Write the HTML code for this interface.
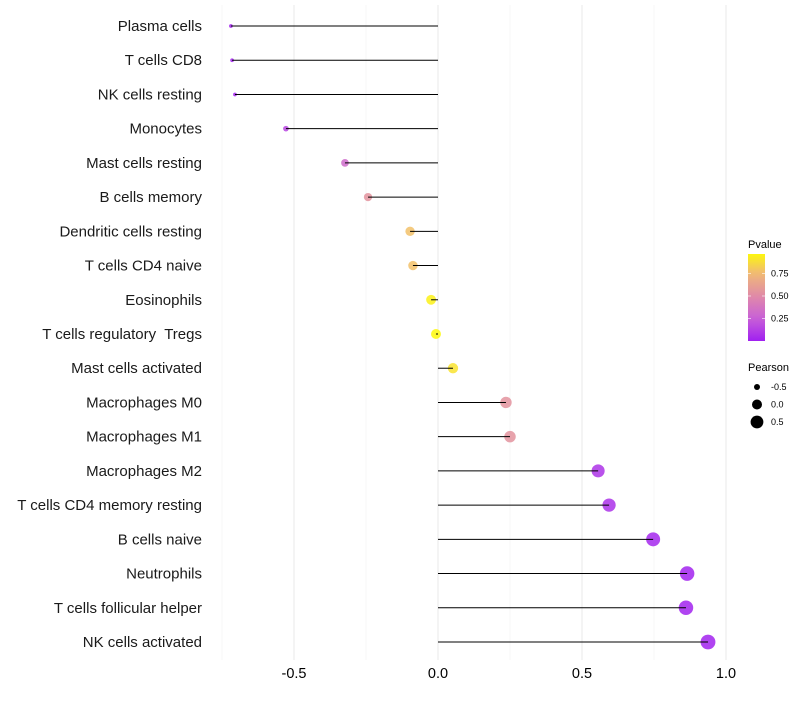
<!DOCTYPE html>
<html><head><meta charset="utf-8"><style>
body{margin:0;background:#fff;}
svg{font-family:"Liberation Sans",sans-serif;}
</style></head><body>
<svg id="chart" width="800" height="700"></svg>
<script>
const categories=["Plasma cells","T cells CD8","NK cells resting","Monocytes","Mast cells resting","B cells memory","Dendritic cells resting","T cells CD4 naive","Eosinophils","T cells regulatory  Tregs","Mast cells activated","Macrophages M0","Macrophages M1","Macrophages M2","T cells CD4 memory resting","B cells naive","Neutrophils","T cells follicular helper","NK cells activated"];
const pearson=[-0.719,-0.715,-0.705,-0.528,-0.323,-0.243,-0.097,-0.087,-0.024,-0.007,0.052,0.236,0.25,0.556,0.594,0.747,0.865,0.861,0.9375];
const pvalues=[0.01,0.01,0.02,0.15,0.32,0.55,0.78,0.78,0.95,0.98,0.9,0.55,0.55,0.08,0.07,0.03,0.01,0.01,0.01];
const xTicks=[-0.5,0,0.5,1];
const xTickLabels=["-0.5","0.0","0.5","1.0"];
const minorTicks=[-0.75,-0.25,0.25,0.75];
const legendPTicks=[0.25,0.5,0.75];
const legendPLabels=["0.25","0.50","0.75"];
const legendSizes=[-0.5,0,0.5];
const legendSizeLabels=["-0.5","0.0","0.5"];

const NS="http://www.w3.org/2000/svg";
const svg=document.getElementById('chart');
const x=v=>438+v*288;
const y=i=>26+i*(616/18);
const r=v=>Math.sqrt(Math.max(25+32*v,3.5));
const stops=[[0,[160,32,240]],[0.25,[200,96,216]],[0.5,[224,138,168]],[0.75,[240,184,120]],[1,[255,255,0]]];
function col(p){for(let k=0;k<stops.length-1;k++){const a=stops[k],b=stops[k+1];if(p<=b[0]){const t=(p-a[0])/(b[0]-a[0]);return 'rgb('+a[1].map((c,j)=>Math.round(c+(b[1][j]-c)*t)).join(',')+')';}}return 'rgb(255,255,0)';}
function el(t,a,parent){const e=document.createElementNS(NS,t);for(const k in a)e.setAttribute(k,a[k]);(parent||svg).appendChild(e);return e;}

const grid=el('g',{});


minorTicks.forEach(v=>{const l=el('line',{x1:x(v),x2:x(v),y1:5,y2:660,stroke:'#f2f2f2','stroke-width':0.6},grid);});
xTicks.forEach((v,i)=>{const l=el('line',{x1:x(v),x2:x(v),y1:5,y2:660,stroke:'#ebebeb','stroke-width':1.1},grid);
const t=el('text',{x:x(v),y:678,'text-anchor':'middle','font-size':14.5,fill:'#000'});t.textContent=xTickLabels[i];});

categories.forEach((c,i)=>{
const t=el('text',{x:202,y:y(i)+5,'text-anchor':'end','font-size':15,fill:'#1a1a1a','xml:space':'preserve',style:'white-space:pre'});t.textContent=c;


const p=el('circle',{cx:x(pearson[i]),cy:y(i),r:r(pearson[i]),fill:col(pvalues[i]),'fill-opacity':0.85});


const s=el('line',{x1:x(0),x2:x(pearson[i]),y1:y(i),y2:y(i),stroke:'#000','stroke-width':1});


});

// legend
const lg=el('g',{});


const defs=el('defs',{});
const gr=el('linearGradient',{id:'pg',x1:0,y1:1,x2:0,y2:0},defs);
for(let k=0;k<=10;k++){el('stop',{offset:k/10,'stop-color':col(k/10*0.97)},gr);}
let tt=el('text',{x:748,y:248,'font-size':11,fill:'#000'},lg);tt.textContent='Pvalue';
el('rect',{x:748,y:254,width:17,height:87,fill:'url(#pg)'},lg);
const py=p=>341-p*90;
legendPTicks.forEach((p,i)=>{el('line',{x1:748,x2:751,y1:py(p),y2:py(p),stroke:'#fff','stroke-opacity':0.6},lg);el('line',{x1:762,x2:765,y1:py(p),y2:py(p),stroke:'#fff','stroke-opacity':0.6},lg);
const t=el('text',{x:771,y:py(p)+3,'font-size':9,fill:'#000'},lg);t.textContent=legendPLabels[i];});
tt=el('text',{x:748,y:371,'font-size':11,fill:'#000'},lg);tt.textContent='Pearson';
legendSizes.forEach((v,i)=>{const cy=387+i*17.5;el('circle',{cx:757,cy:cy,r:r(v),fill:'#000'},lg);
const t=el('text',{x:771,y:cy+3,'font-size':9,fill:'#000'},lg);t.textContent=legendSizeLabels[i];});
</script>
</body></html>
